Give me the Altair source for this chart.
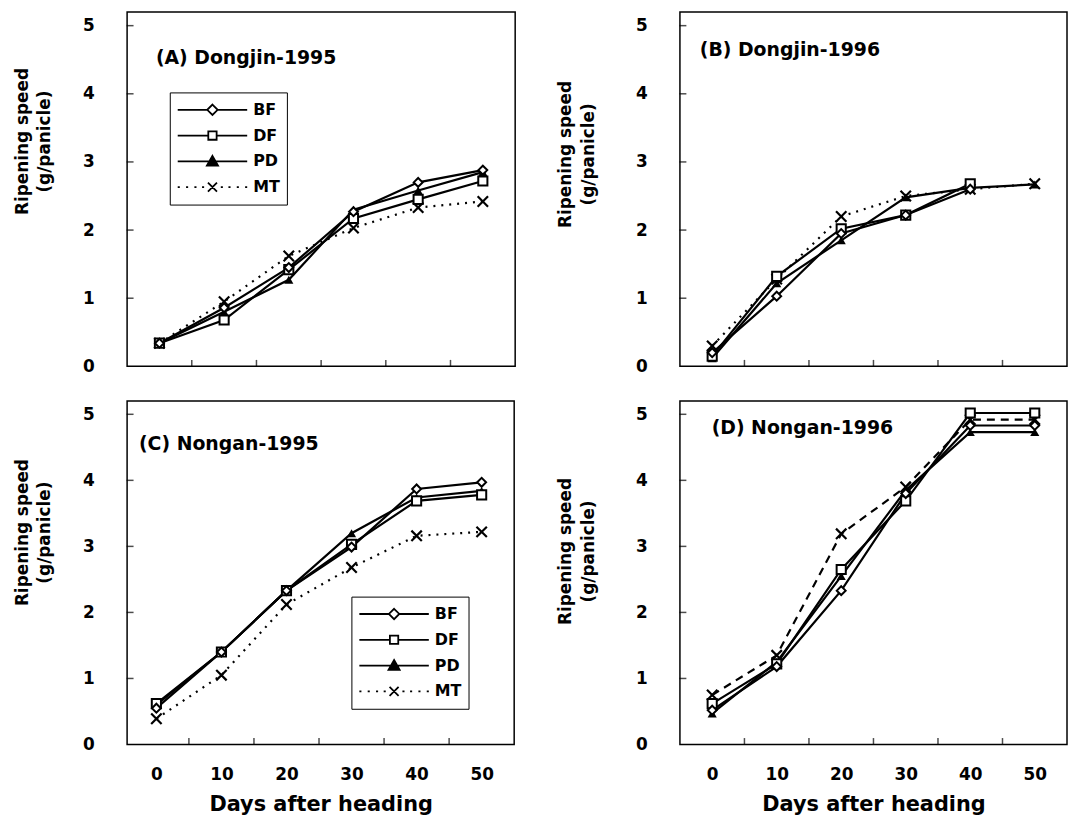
import altair as alt
import pandas as pd

DAYS = [0, 10, 20, 30, 40, 50]
SERIES = ["BF", "DF", "PD", "MT"]

# (A) Dongjin-1995
A_BF = [0.34, 0.86, 1.45, 2.27, 2.70, 2.88]
A_DF = [0.34, 0.68, 1.42, 2.17, 2.45, 2.72]
A_PD = [0.34, 0.80, 1.27, 2.30, 2.58, 2.85]
A_MT = [0.34, 0.95, 1.62, 2.03, 2.33, 2.42]
# (B) Dongjin-1996
B_BF = [0.20, 1.03, 1.95, 2.22, 2.60, None]
B_DF = [0.15, 1.32, 2.02, 2.22, 2.68, None]
B_PD = [0.12, 1.22, 1.85, 2.48, 2.62, 2.67]
B_MT = [0.30, 1.28, 2.20, 2.50, 2.60, 2.68]
# (C) Nongan-1995
C_BF = [0.55, 1.40, 2.33, 2.99, 3.87, 3.97]
C_DF = [0.62, 1.40, 2.33, 3.03, 3.69, 3.78]
C_PD = [0.60, 1.40, 2.33, 3.20, 3.74, 3.84]
C_MT = [0.39, 1.05, 2.12, 2.68, 3.16, 3.22]
# (D) Nongan-1996
D_BF = [0.52, 1.18, 2.33, 3.80, 4.83, 4.83]
D_DF = [0.62, 1.22, 2.65, 3.69, 5.02, 5.02]
D_PD = [0.47, 1.25, 2.55, 3.85, 4.73, 4.73]
D_MT = [0.75, 1.35, 3.19, 3.90, 4.92, 4.92]

X_LABELS = [0, 10, 20, 30, 40, 50]
X_MINOR = [5, 15, 25, 35, 45]
Y_LABELS = [0, 1, 2, 3, 4, 5]
Y_TICKS = [1, 2, 3, 4, 5]

FONT = "DejaVu Sans"
X_PATH = "M-1,-1L1,1M-1,1L1,-1"
LEG_PATHS = [
    "M-1,0H-0.15M0.15,0H1M0,-0.15L0.15,0L0,0.15L-0.15,0Z",
    "M-1,0H-0.12M0.12,0H1M-0.12,-0.12H0.12V0.12H-0.12Z",
    "M-1,0H1M0,-0.16L0.16,0.12H-0.16Z",
    "M-1,0H-0.94M-0.76,0H-0.7M-0.52,0H-0.46M-0.3,0H-0.24"
    "M-0.13,-0.13L0.13,0.13M-0.13,0.13L0.13,-0.13"
    "M0.24,0H0.3M0.46,0H0.52M0.7,0H0.76M0.94,0H1",
]
LEG_FILLS = ["white", "white", "black", "white"]
LEG_STROKES = ["black", "black", "black", "black"]


def long_df(vals):
    rows = []
    for s, v in zip(SERIES, vals):
        for d, y in zip(DAYS, v):
            if y is not None:
                rows.append({"day": d, "series": s, "value": y})
    return pd.DataFrame(rows)


def panel(vals, title, xdom, w, h, bottom, mt_dash, tdx, tdy, ty, tpad, legend_xy=None):
    df = long_df(vals)
    xaxis = alt.Axis(values=X_LABELS, labels=bottom, title="Days after heading" if bottom else None,
                     labelPadding=22, titlePadding=12, titleFontSize=21, format="d")
    yaxis = alt.Axis(values=Y_LABELS, title=["Ripening speed", "(g/panicle)"], labelPadding=33,
                     titlePadding=tpad, titleFontSize=17, titleLineHeight=23, titleY=ty, format="d")
    x = alt.X("day:Q", scale=alt.Scale(domain=xdom, nice=False, zero=False), axis=xaxis)
    y = alt.Y("value:Q", scale=alt.Scale(domain=[0, 5.2], nice=False, zero=False), axis=yaxis)
    base = alt.Chart(df).encode(x=x, y=y)
    xn = alt.X("day:Q")
    yn = alt.Y("value:Q")
    layers = [
        base.transform_filter("datum.series != 'MT'").mark_line(color="black", strokeWidth=2.2).encode(detail="series:N"),
        base.transform_filter("datum.series == 'MT'").mark_line(color="black", strokeWidth=2.2, strokeDash=mt_dash),
        base.transform_filter("datum.series == 'MT'").mark_point(shape=X_PATH, filled=False, color="black",
                                                                strokeWidth=2.2, size=110, opacity=1),
        base.transform_filter("datum.series == 'PD'").mark_point(shape="triangle-up", filled=True, color="black",
                                                                size=85, opacity=1),
        base.transform_filter("datum.series == 'DF'").mark_point(shape="square", filled=True, fill="white",
                                                                stroke="black", strokeWidth=2, size=85, opacity=1),
        base.transform_filter("datum.series == 'BF'").mark_point(shape="diamond", filled=True, fill="white",
                                                                stroke="black", strokeWidth=2, size=80, opacity=1),
    ]
    xt = pd.DataFrame({"day": X_MINOR, "value": [0] * len(X_MINOR)})
    yt = pd.DataFrame({"day": [xdom[0]] * len(Y_TICKS), "value": Y_TICKS})
    layers.append(alt.Chart(xt).mark_tick(orient="vertical", color="black", size=7, thickness=1.5, yOffset=-3)
                  .encode(x=xn, y=yn))
    layers.append(alt.Chart(yt).mark_tick(orient="horizontal", color="black", size=7, thickness=1.5, xOffset=3)
                  .encode(x=xn, y=yn))
    if legend_xy is not None:
        leg = alt.Legend(title=None, orient="none", legendX=legend_xy[0], legendY=legend_xy[1],
                         symbolSize=4900, clipHeight=21, symbolStrokeWidth=1.8, symbolStrokeColor="black",
                         symbolOpacity=1, labelFont=FONT, labelFontSize=16, labelFontWeight="bold",
                         labelColor="black", labelOffset=5, strokeColor="black", padding=7, rowPadding=5,
                         fillColor="white")
        layers.append(base.mark_point(opacity=0, filled=False, stroke="black").encode(
            shape=alt.Shape("series:N", scale=alt.Scale(domain=SERIES, range=LEG_PATHS), legend=leg),
            fill=alt.Fill("series:N", scale=alt.Scale(domain=SERIES, range=LEG_FILLS), legend=leg),
            stroke=alt.Stroke("series:N", scale=alt.Scale(domain=SERIES, range=LEG_STROKES), legend=leg),
        ))
    return alt.layer(*layers).properties(
        width=w, height=h,
        title=alt.TitleParams(title, anchor="start", frame="group", orient="top", offset=0, dx=tdx, dy=tdy,
                              baseline="alphabetic", font=FONT, fontSize=19, fontWeight="bold", color="black"),
    )


pA = panel([A_BF, A_DF, A_PD, A_MT], "(A) Dongjin-1995", [-5, 55], 391, 357, False, [2, 6], 29, 71, 130, 29, (43, 81))
pB = panel([B_BF, B_DF, B_PD, B_MT], "(B) Dongjin-1996", [-5, 55], 390, 357, False, [2, 6], 20, 63, 143, 38)
pC = panel([C_BF, C_DF, C_PD, C_MT], "(C) Nongan-1995", [-4.5, 55], 390, 346, True, [2, 6], 12, 68, 132, 29, (226, 197))
pD = panel([D_BF, D_DF, D_PD, D_MT], "(D) Nongan-1996", [-5, 55], 390, 346, True, [8, 6], 32, 52, 151, 38)

chart = alt.concat(pA, pB, pC, pD, columns=2, spacing={"row": 35, "column": 166}, bounds="flush").resolve_scale(
    x="independent", y="independent", shape="independent", fill="independent", stroke="independent"
).resolve_legend(
    shape="independent", fill="independent", stroke="independent"
).properties(padding={"left": 4, "top": 0, "right": 0, "bottom": 0}).configure_axis(
    labelFont=FONT, labelFontWeight="bold", labelFontSize=17, labelColor="black",
    titleFont=FONT, titleFontWeight="bold", titleColor="black",
    grid=False, ticks=False, domain=False,
).configure_view(stroke="black", strokeWidth=1.5)

chart.save("out.html", embed_options={"renderer": "svg", "actions": False})
